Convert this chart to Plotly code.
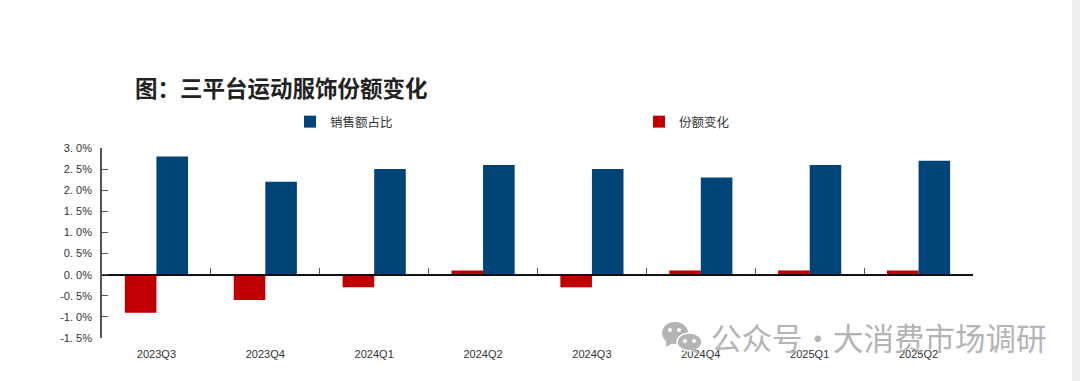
import plotly.graph_objects as go

categories = ["2023Q3", "2023Q4", "2024Q1", "2024Q2", "2024Q3", "2024Q4", "2025Q1", "2025Q2"]
sales_share = [2.8, 2.2, 2.5, 2.6, 2.5, 2.3, 2.6, 2.7]
share_change = [-0.9, -0.6, -0.3, 0.1, -0.3, 0.1, 0.1, 0.1]
y_ticks = [-1.5, -1.0, -0.5, 0.0, 0.5, 1.0, 1.5, 2.0, 2.5, 3.0]
y_tick_labels = ["-1. 5%", "-1. 0%", "-0. 5%", "0. 0%", "0. 5%", "1. 0%", "1. 5%", "2. 0%", "2. 5%", "3. 0%"]
title_text = "图\uff1a三平台运动服饰份额变化"
watermark = "公众号·大消费市场调研"

W, H = 1080, 381
L, R, T, B = 102, 107, 148, 43
PW, PH = W - L - R, H - T - B
CJK = "Noto Sans CJK SC"
LAT = "Liberation Sans"


def px(x):
    return (x - L) / PW


def py(y):
    return (H - B - y) / PH


positions = list(range(len(categories)))
fig = go.Figure()
fig.add_bar(x=positions, y=share_change, name="份额变化", marker=dict(color="#C00000", line_width=0), legendrank=2)
fig.add_bar(x=positions, y=sales_share, name="销售额占比", marker=dict(color="#004477", line_width=0), legendrank=1)
# Hidden trace that carries the tick-marked zero axis.
fig.add_scatter(x=positions, y=[0] * len(positions), xaxis="x2", mode="none", showlegend=False, hoverinfo="skip")

fig.update_layout(
    width=W, height=H, margin=dict(l=L, r=R, t=T, b=B, autoexpand=False),
    paper_bgcolor="white", plot_bgcolor="white",
    barmode="group", bargap=0.42, bargroupgap=0,
    font=dict(family=f"{LAT}, {CJK}", size=11, color="#333333"),
    title=dict(text=f"<b>{title_text}</b>", x=px(135), xanchor="left", y=1 - 89 / H, yanchor="middle",
               xref="paper", font=dict(family=CJK, size=22.5, color="#222222")),
    legend=dict(orientation="h", x=px(290), xanchor="left", y=py(122), yanchor="middle",
                entrywidth=304, entrywidthmode="pixels", bgcolor="rgba(0,0,0,0)",
                font=dict(family=CJK, size=12.5, color="#333333")),
    xaxis=dict(range=[-0.5, 7.5], tickmode="array", tickvals=positions, ticktext=categories,
               showgrid=False, zeroline=False, showline=False, ticks="", ticklabelstandoff=8,
               tickfont=dict(family=LAT, size=11, color="#333333")),
    xaxis2=dict(range=[-0.5, 7.5], overlaying="x", anchor="free", position=1 / 3, side="bottom",
                tickmode="array", tickvals=[i - 0.5 for i in range(9)], ticktext=[""] * 9,
                showgrid=False, zeroline=False, showline=True, linecolor="#111111", linewidth=1.5,
                ticks="inside", ticklen=6, tickwidth=1.2, tickcolor="#555555"),
    yaxis=dict(range=[-1.5, 3.0], tickmode="array", tickvals=y_ticks, ticktext=y_tick_labels,
               showgrid=False, zeroline=False, showline=True, linecolor="#555555", linewidth=1.6,
               ticks="inside", ticklen=6, tickwidth=1.2, tickcolor="#555555", ticklabelstandoff=6,
               tickfont=dict(family=LAT, size=11, color="#333333")),
    showlegend=True,
)

# Page background strip on the right.
fig.add_shape(type="rect", xref="paper", yref="paper", x0=px(1072), x1=px(1080), y0=py(381), y1=py(0),
              fillcolor="#EEEEEE", line_width=0, layer="below")

# Watermark
GRAY = "#B4B4B4"


def blob(x0, y0, x1, y1, fill, line=None):
    fig.add_shape(type="circle", xref="paper", yref="paper", x0=px(x0), x1=px(x1), y0=py(y1), y1=py(y0),
                  fillcolor=fill, line=dict(color=line or fill, width=1.5 if line else 0), layer="above")


blob(662, 322, 688, 344, GRAY)
fig.add_shape(type="path", xref="paper", yref="paper",
              path=f"M {px(666)} {py(338)} L {px(666)} {py(347)} L {px(674)} {py(342)} Z",
              fillcolor=GRAY, line_width=0, layer="above")
blob(677, 333, 702, 351, GRAY, "white")
fig.add_shape(type="path", xref="paper", yref="paper",
              path=f"M {px(695)} {py(347)} L {px(698)} {py(354)} L {px(691)} {py(350)} Z",
              fillcolor=GRAY, line_width=0, layer="above")
blob(668, 328, 672, 332, "white")
blob(677, 328, 681, 332, "white")
blob(683, 339, 687, 343, "white")
blob(692, 339, 696, 343, "white")

fig.add_annotation(text=watermark, xref="paper", yref="paper", x=px(709), y=py(337), xanchor="left",
                   yanchor="middle", showarrow=False, font=dict(family=CJK, size=30.5, color=GRAY))

fig.write_html("out.html", config={"displayModeBar": False},
               post_script="document.body.style.margin='0';document.body.style.overflow='hidden';")
